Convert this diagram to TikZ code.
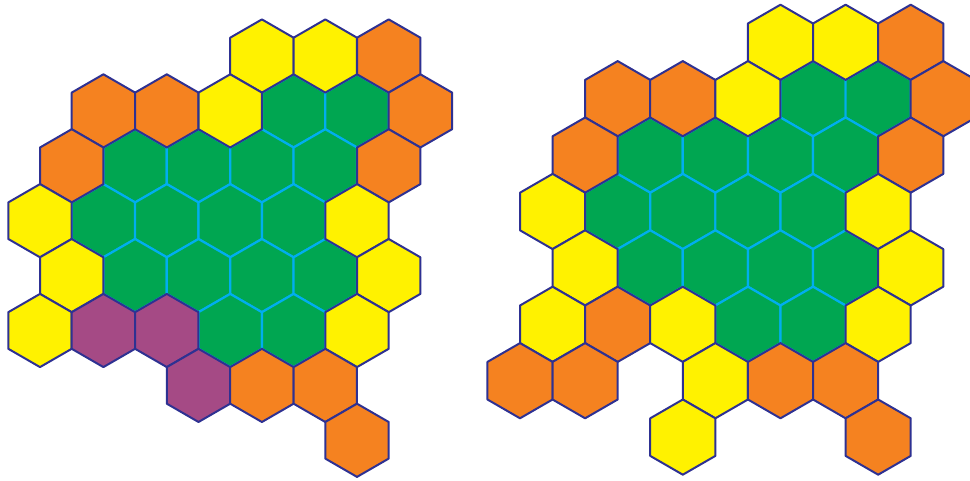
\documentclass[tikz,border=0pt]{standalone}
\definecolor{hy}{HTML}{FFF200}
\definecolor{ho}{HTML}{F58220}
\definecolor{hg}{HTML}{00A651}
\definecolor{hp}{HTML}{A54A85}
\definecolor{hd}{HTML}{2E3192}
\definecolor{hc}{HTML}{00AEEF}
\begin{document}
\begin{tikzpicture}[x=1pt,y=-1pt,
  G/.style={fill=hg,draw=hc,line width=2.2pt,line join=round},
  Y/.style={fill=hy,draw=hd,line width=2pt,line join=round},
  O/.style={fill=ho,draw=hd,line width=2pt,line join=round},
  P/.style={fill=hp,draw=hd,line width=2pt,line join=round}]
\useasboundingbox (0,0) rectangle (970,481);
\clip (0,0) rectangle (970,481);
% left grid
\foreach \k/\r/\c in {8/1/G,10/1/G,3/2/G,5/2/G,7/2/G,9/2/G,2/3/G,4/3/G,6/3/G,8/3/G,3/4/G,5/4/G,7/4/G,9/4/G,6/5/G,8/5/G,
  7/0/Y,9/0/Y,11/0/O,2/1/O,4/1/O,6/1/Y,12/1/O,1/2/O,11/2/O,0/3/Y,10/3/Y,1/4/Y,11/4/Y,0/5/Y,2/5/P,4/5/P,10/5/Y,5/6/P,7/6/O,9/6/O,10/7/O}{
  \draw[\c] ({40+\k*31.7},{56+\r*54.9}) +(30:36.6) -- +(90:36.6) -- +(150:36.6) -- +(210:36.6) -- +(270:36.6) -- +(330:36.6) -- cycle;
}
% right grid
\foreach \k/\r/\c in {9/1/G,11/1/G,4/2/G,6/2/G,8/2/G,10/2/G,3/3/G,5/3/G,7/3/G,9/3/G,4/4/G,6/4/G,8/4/G,10/4/G,7/5/G,9/5/G,
  8/0/Y,10/0/Y,12/0/O,3/1/O,5/1/O,7/1/Y,13/1/O,2/2/O,12/2/O,1/3/Y,11/3/Y,2/4/Y,12/4/Y,1/5/Y,3/5/O,5/5/Y,11/5/Y,0/6/O,2/6/O,6/6/Y,8/6/O,10/6/O,5/7/Y,11/7/O}{
  \draw[\c] ({520+\k*32.56},{42.3+\r*56.4}) +(30:37.6) -- +(90:37.6) -- +(150:37.6) -- +(210:37.6) -- +(270:37.6) -- +(330:37.6) -- cycle;
}
\end{tikzpicture}
\end{document}
